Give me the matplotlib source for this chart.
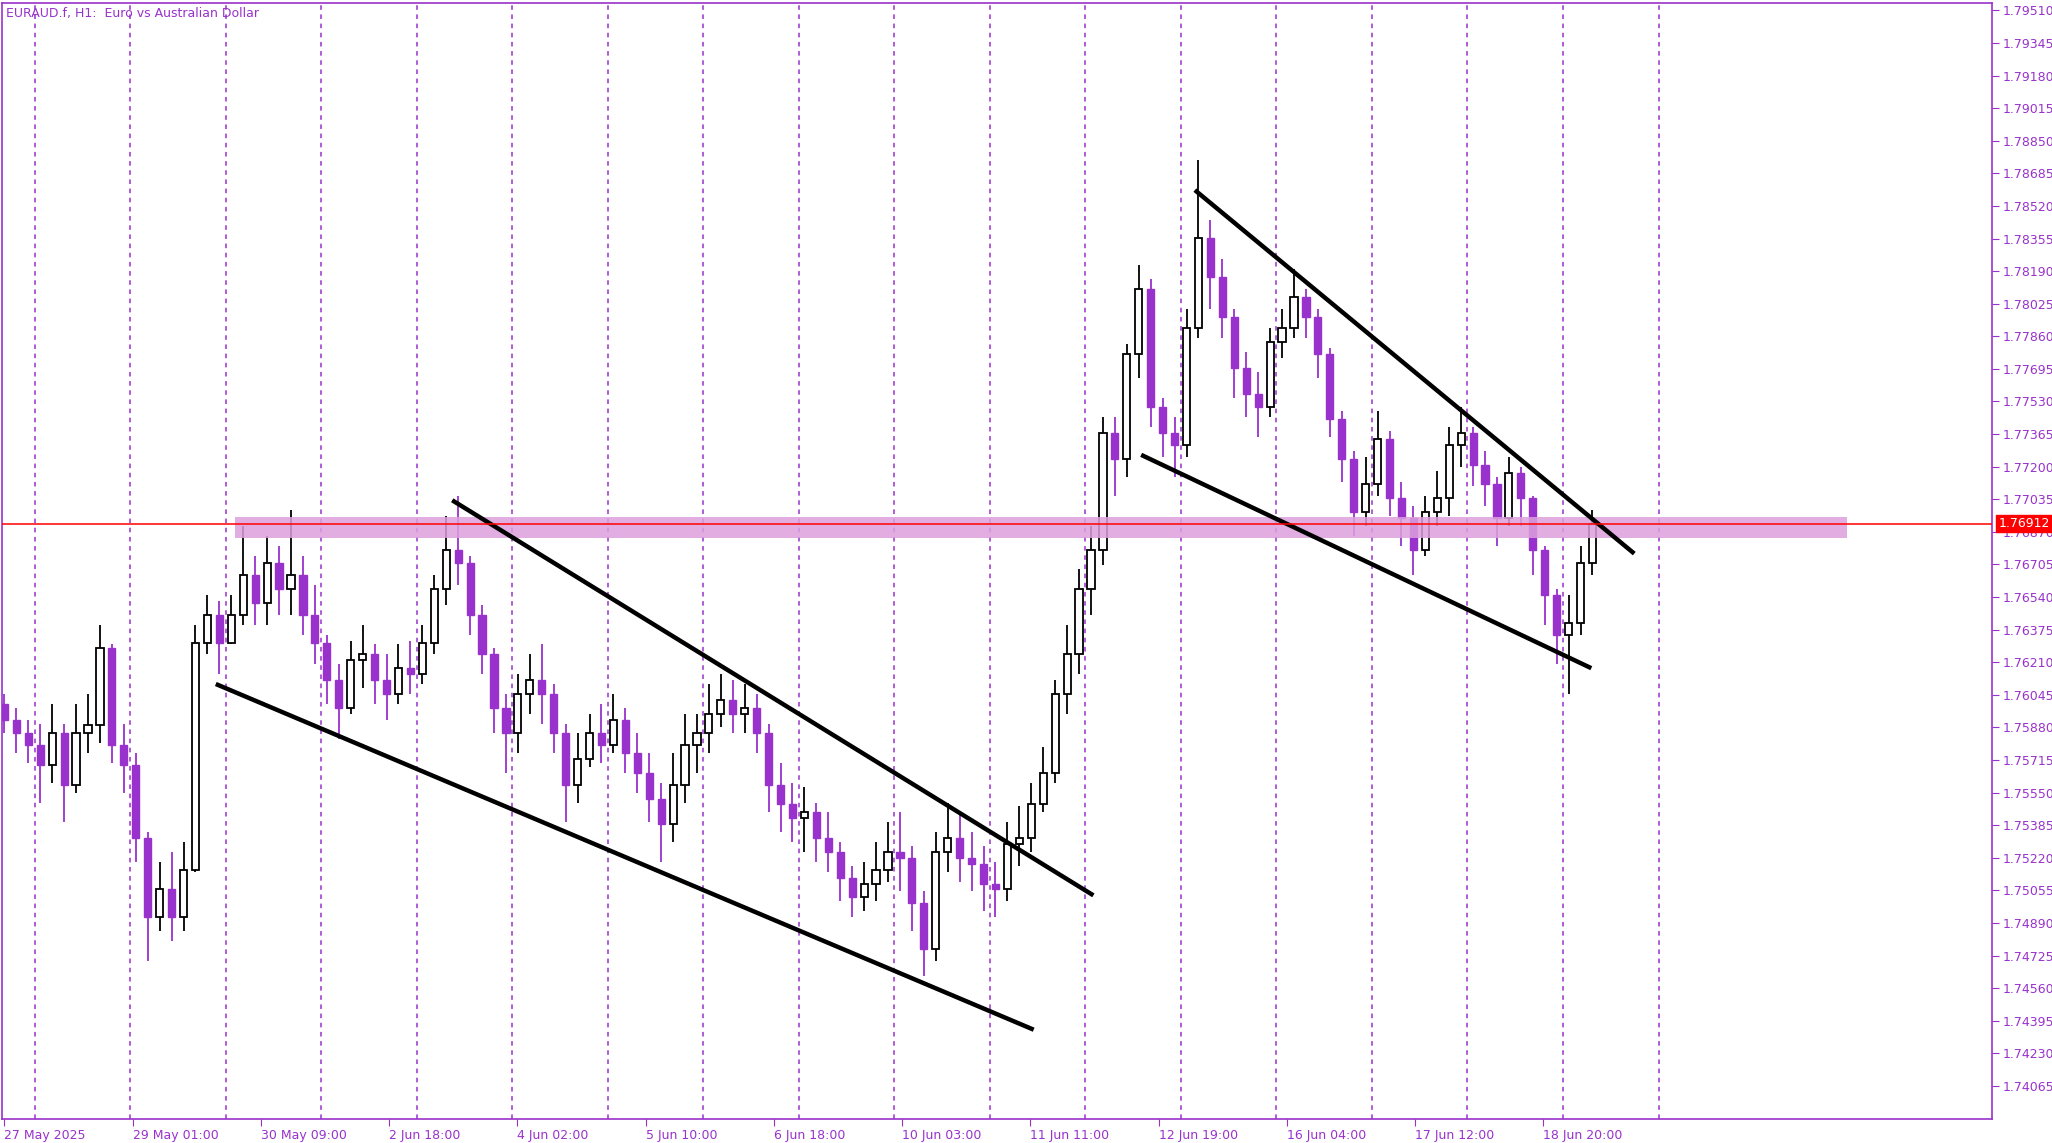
import matplotlib
matplotlib.use("Agg")
import matplotlib.pyplot as plt
from matplotlib.patches import Rectangle

# 3-hour candles (open = previous close)
closes = [1.7592, 1.7585, 1.7579, 1.7569, 1.7585, 1.7559, 1.7585, 1.7589, 1.7628, 1.7579,
          1.7569, 1.7532, 1.7492, 1.7506, 1.7492, 1.7516, 1.7631, 1.7645, 1.7631, 1.7645,
          1.7665, 1.7651, 1.7671, 1.7658, 1.7665, 1.7645, 1.7631, 1.7612, 1.7598, 1.7622,
          1.7625, 1.7612, 1.7605, 1.7618, 1.7615, 1.7631, 1.7658, 1.7678, 1.7671, 1.7645,
          1.7625, 1.7598, 1.7585, 1.7605, 1.7612, 1.7605, 1.7585, 1.7559, 1.7572, 1.7585,
          1.7579, 1.7592, 1.7575, 1.7565, 1.7552, 1.7539, 1.7559, 1.7579, 1.7585, 1.7595,
          1.7602, 1.7595, 1.7598, 1.7585, 1.7559, 1.7549, 1.7542, 1.7545, 1.7532, 1.7525,
          1.7512, 1.7502, 1.7509, 1.7516, 1.7525, 1.7522, 1.7499, 1.7476, 1.7525, 1.7532,
          1.7522, 1.7519, 1.7509, 1.7506, 1.7529, 1.7532, 1.7549, 1.7565, 1.7605, 1.7625,
          1.7658, 1.7678, 1.7737, 1.7724, 1.7777, 1.7810, 1.7750, 1.7737, 1.7731, 1.7790,
          1.7836, 1.7816, 1.7796, 1.7770, 1.7757, 1.7750, 1.7783, 1.7790, 1.7806, 1.7796,
          1.7777, 1.7744, 1.7724, 1.7697, 1.7711, 1.7734, 1.7704, 1.7694, 1.7678, 1.7697,
          1.7704, 1.7731, 1.7737, 1.7721, 1.7711, 1.7694, 1.7717, 1.7704, 1.7678, 1.7655,
          1.7635, 1.7641, 1.7671, 1.7691]
highs = [1.7605, 1.7598, 1.7592, 1.7590, 1.7600, 1.7590, 1.7600, 1.7605, 1.7640, 1.7630,
         1.7590, 1.7575, 1.7535, 1.7520, 1.7525, 1.7530, 1.7640, 1.7655, 1.7652, 1.7655,
         1.7690, 1.7675, 1.7685, 1.7680, 1.7698, 1.7675, 1.7660, 1.7635, 1.7620, 1.7632,
         1.7640, 1.7630, 1.7625, 1.7630, 1.7632, 1.7640, 1.7665, 1.7695, 1.7705, 1.7675,
         1.7650, 1.7628, 1.7605, 1.7615, 1.7625, 1.7630, 1.7610, 1.7590, 1.7585, 1.7595,
         1.7600, 1.7605, 1.7598, 1.7585, 1.7575, 1.7560, 1.7575, 1.7595, 1.7595, 1.7610,
         1.7615, 1.7612, 1.7610, 1.7605, 1.7590, 1.7570, 1.7560, 1.7558, 1.7550, 1.7545,
         1.7530, 1.7518, 1.7520, 1.7530, 1.7540, 1.7545, 1.7528, 1.7505, 1.7535, 1.7550,
         1.7545, 1.7535, 1.7528, 1.7520, 1.7540, 1.7548, 1.7560, 1.7578, 1.7612, 1.7640,
         1.7668, 1.7690, 1.7745, 1.7745, 1.7782, 1.7822, 1.7815, 1.7755, 1.7745, 1.7800,
         1.7875, 1.7845, 1.7825, 1.7800, 1.7778, 1.7768, 1.7790, 1.7800, 1.7820, 1.7810,
         1.7800, 1.7780, 1.7748, 1.7728, 1.7725, 1.7748, 1.7738, 1.7712, 1.7700, 1.7705,
         1.7718, 1.7740, 1.7750, 1.7740, 1.7728, 1.7715, 1.7725, 1.7720, 1.7705, 1.7680,
         1.7658, 1.7655, 1.7680, 1.7698]
lows = [1.7585, 1.7575, 1.7570, 1.7550, 1.7560, 1.7540, 1.7555, 1.7575, 1.7580, 1.7570,
        1.7555, 1.7520, 1.7470, 1.7485, 1.7480, 1.7485, 1.7515, 1.7625, 1.7615, 1.7630,
        1.7640, 1.7640, 1.7640, 1.7645, 1.7645, 1.7635, 1.7620, 1.7600, 1.7582, 1.7595,
        1.7608, 1.7600, 1.7592, 1.7600, 1.7605, 1.7610, 1.7625, 1.7650, 1.7660, 1.7635,
        1.7615, 1.7585, 1.7565, 1.7575, 1.7595, 1.7590, 1.7575, 1.7540, 1.7550, 1.7568,
        1.7570, 1.7575, 1.7565, 1.7555, 1.7540, 1.7520, 1.7530, 1.7550, 1.7565, 1.7575,
        1.7588, 1.7585, 1.7585, 1.7575, 1.7545, 1.7535, 1.7530, 1.7525, 1.7520, 1.7515,
        1.7500, 1.7492, 1.7495, 1.7500, 1.7510, 1.7505, 1.7485, 1.7462, 1.7470, 1.7515,
        1.7510, 1.7505, 1.7495, 1.7492, 1.7500, 1.7518, 1.7525, 1.7545, 1.7560, 1.7595,
        1.7615, 1.7645, 1.7670, 1.7705, 1.7715, 1.7765, 1.7740, 1.7725, 1.7715, 1.7725,
        1.7785, 1.7800, 1.7785, 1.7755, 1.7745, 1.7735, 1.7745, 1.7775, 1.7785, 1.7785,
        1.7765, 1.7735, 1.7712, 1.7685, 1.7690, 1.7705, 1.7695, 1.7680, 1.7665, 1.7675,
        1.7690, 1.7695, 1.7720, 1.7710, 1.7700, 1.7680, 1.7690, 1.7690, 1.7665, 1.7640,
        1.7620, 1.7605, 1.7635, 1.7665]
first_open = 1.7600

# trend lines: (candle index, price) pairs
trend_lines = [
    ((17.7, 1.7610), (86.2, 1.7435)),
    ((37.5, 1.7703), (91.2, 1.7503)),
    ((95.2, 1.7726), (132.9, 1.7618)),
    ((99.7, 1.7860), (136.5, 1.7676)),
]
zone_top, zone_bottom = 1.76943, 1.76837
zone_start, zone_end = 19.3, 154.3
last_price = 1.76912

x_labels = ["27 May 2025", "29 May 01:00", "30 May 09:00", "2 Jun 18:00", "4 Jun 02:00",
            "5 Jun 10:00", "6 Jun 18:00", "10 Jun 03:00", "11 Jun 11:00", "12 Jun 19:00",
            "16 Jun 04:00", "17 Jun 12:00", "18 Jun 20:00"]
y_ticks = [1.79510 - 0.00165 * k for k in range(34)]

purple = "#9932CC"
fig = plt.figure(figsize=(20.52, 11.43), dpi=100)
ax = fig.add_axes([0.001, 0.021, 0.970, 0.976])

# day separators
for k in range(18):
    ax.axvline(2.53 + 8 * k, color=purple, lw=1.1, ls=(0, (3, 3)), zorder=1)

opens = [first_open] + closes[:-1]
for i, (o, h, l, c) in enumerate(zip(opens, highs, lows, closes)):
    if c >= o:
        ax.vlines(i, l, h, color="black", lw=1.3, zorder=2)
        ax.add_patch(Rectangle((i - 0.3, o), 0.6, max(c - o, 0.00003),
                               facecolor="white", edgecolor="black", lw=1.3, zorder=3))
    else:
        ax.vlines(i, l, h, color=purple, lw=1.3, zorder=2)
        ax.add_patch(Rectangle((i - 0.3, c), 0.6, o - c,
                               facecolor=purple, edgecolor=purple, lw=1.0, zorder=3))

ax.add_patch(Rectangle((zone_start, zone_bottom), zone_end - zone_start, zone_top - zone_bottom,
                       facecolor="#dda0dd", alpha=0.85, lw=0, zorder=4))

for (x0, y0), (x1, y1) in trend_lines:
    ax.plot([x0, x1], [y0, y1], color="black", lw=3.2, zorder=5, solid_capstyle="butt")

ax.axhline(last_price, color="red", lw=1.1, zorder=6)

ax.set_xlim(-0.2, 166.5)
ax.set_ylim(1.73898, 1.79545)

ax.set_xticks([10.74 * k for k in range(len(x_labels))])
ax.set_xticklabels(x_labels, ha="left")
ax.tick_params(axis="x", colors=purple, labelsize=9, length=5, pad=2)
ax.yaxis.tick_right()
ax.set_yticks(y_ticks)
ax.set_yticklabels(["%.5f" % v for v in y_ticks])
ax.tick_params(axis="y", colors=purple, labelsize=9, length=5, pad=2)
for s in ax.spines.values():
    s.set_color(purple)
    s.set_linewidth(1.2)

ax.text(1.003, last_price, "%.5f" % last_price, transform=ax.get_yaxis_transform(),
        color="white", fontsize=9, va="center", ha="left",
        bbox=dict(facecolor="red", edgecolor="red", pad=1.5), zorder=10, clip_on=False)
ax.text(0.002, 0.997, "EURAUD.f, H1:  Euro vs Australian Dollar", transform=ax.transAxes,
        color=purple, fontsize=9, va="top", ha="left")

fig.savefig("out.png", dpi=100)
